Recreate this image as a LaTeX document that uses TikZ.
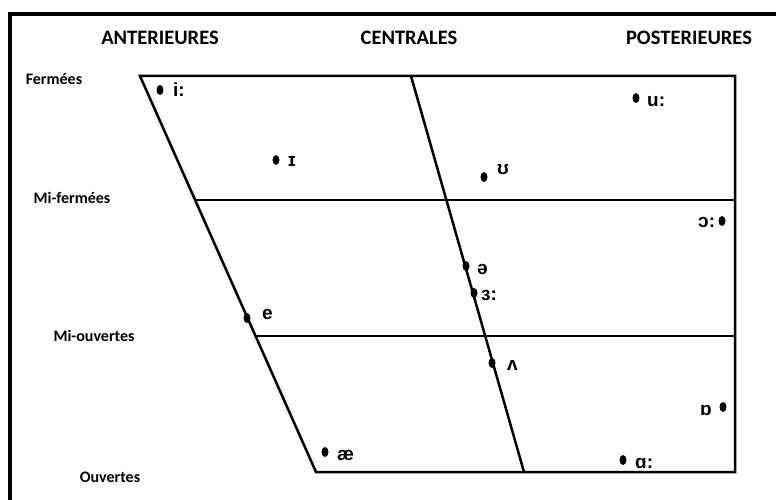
\documentclass[tikz,border=0pt]{standalone}
\usepackage{fontspec}
\setmainfont{Carlito}
\newfontfamily\ipa{Liberation Sans}
\usetikzlibrary{shapes.geometric}

\begin{document}
\begin{tikzpicture}[x=1pt, y=-1pt,
  colhead/.style={anchor=base, font=\fontsize{20.5}{24}\selectfont\bfseries},
  rowhead/.style={anchor=base, font=\fontsize{16}{19}\selectfont\bfseries},
  vow/.style={anchor=base west, inner sep=0pt, font=\ipa\fontsize{19}{22}\selectfont\bfseries},
  dot/.style={ellipse, fill, inner sep=0pt, minimum width=7, minimum height=10}]

\useasboundingbox (0,0) rectangle (776,500);
\draw[line width=4] (10,500) -- (10,14) -- (776,14);

\node (ant) at (160,45) [colhead] {ANTERIEURES};
\node (cen) at (409,45) [colhead] {CENTRALES};
\node (pos) at (689,45) [colhead] {POSTERIEURES};

\node (fer) at (54,85) [rowhead] {Fermées};
\node (mfer) at (72,203) [rowhead] {Mi-fermées};
\node (mouv) at (94,341) [rowhead] {Mi-ouvertes};
\node (ouv) at (110,482) [rowhead] {Ouvertes};

\draw[line width=2.5] (140,76) -- (735,76) -- (735,472) -- (316,472) -- cycle;
\draw[line width=2.5] (411,76) -- (524,472);
\draw[line width=2.5] (195,200) -- (735,200);
\draw[line width=2.5] (256,336) -- (735,336);

\node[dot] (d1) at (160,90) {};  \node[vow] (v1) at (173,97) {i:};
\node[dot] (d2) at (276,160) {}; \node[vow] (v2) at (288,166) {ɪ};
\node[dot] (d3) at (636,98) {};  \node[vow] (v3) at (647,107) {u:};
\node[dot] (d4) at (484,177) {}; \node[vow] (v4) at (497,175) {ʊ};
\node[dot] (d5) at (722,221) {}; \node[vow] (v5) at (698,227) {ɔ:};
\node[dot] (d6) at (466,266) {}; \node[vow] (v6) at (477,274) {ə};
\node[dot] (d7) at (474,293) {}; \node[vow] (v7) at (481,300) {ɜ:};
\node[dot] (d8) at (247,318) {}; \node[vow] (v8) at (262,319) {e};
\node[dot] (d9) at (492,363) {}; \node[vow] (v9) at (507,370) {ʌ};
\node[dot] (d10) at (723,407) {}; \node[vow] (v10) at (700,415) {ɒ};
\node[dot] (d11) at (623,460) {}; \node[vow] (v11) at (635,468) {ɑ:};
\node[dot] (d12) at (325,452) {}; \node[vow] (v12) at (337,460) {æ};

\end{tikzpicture}
\end{document}
